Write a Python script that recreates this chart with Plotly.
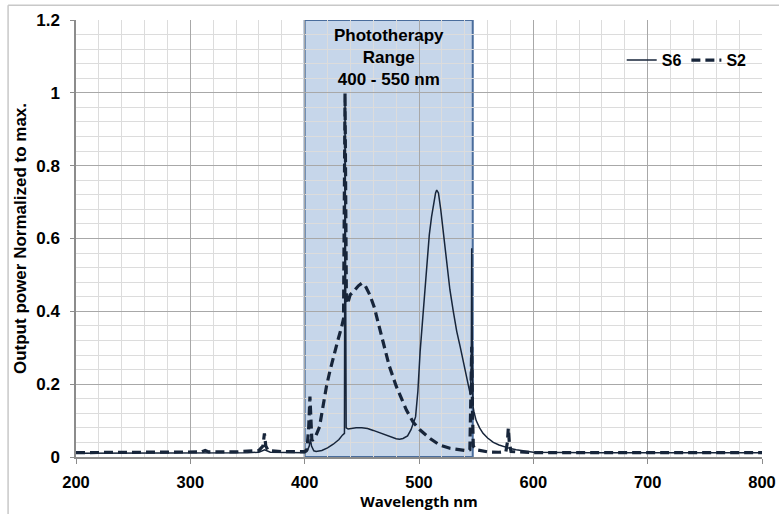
import plotly.graph_objects as go

# ---- data ----
s6_wl = [200, 250, 300, 350, 360, 365, 370, 400, 402, 404, 405, 406, 408, 410, 415, 420, 425, 430, 433,
         434.8, 435.3, 435.8, 436.3, 438, 440, 445, 450, 455, 460, 465, 470, 475, 480, 483, 486, 490, 493,
         497, 499, 501, 504, 507, 509, 511, 513, 514.5, 515.5, 517, 519, 521, 523, 525, 527, 530, 533,
         536, 539, 541, 543, 545, 545.7, 546.1, 546.6, 547.2, 548, 550, 553, 556, 560, 565, 570, 575,
         578, 585, 590, 595, 600, 650, 700, 750, 800]
s6_val = [0.010, 0.010, 0.011, 0.012, 0.013, 0.020, 0.013, 0.012, 0.015, 0.030, 0.050, 0.030, 0.017, 0.015,
          0.018, 0.025, 0.035, 0.048, 0.060, 0.065, 0.98, 0.30, 0.080, 0.077, 0.078, 0.080, 0.080, 0.078,
          0.073, 0.067, 0.060, 0.054, 0.050, 0.049, 0.051, 0.058, 0.075, 0.11, 0.18, 0.29, 0.42, 0.53,
          0.61, 0.66, 0.70, 0.725, 0.733, 0.725, 0.68, 0.62, 0.56, 0.51, 0.46, 0.40, 0.345, 0.303, 0.26,
          0.23, 0.195, 0.17, 0.25, 0.573, 0.30, 0.14, 0.125, 0.10, 0.08, 0.065, 0.052, 0.040, 0.033,
          0.027, 0.025, 0.020, 0.017, 0.015, 0.013, 0.012, 0.012, 0.012, 0.012]

s2_wl = [200, 220, 260, 300, 310, 313, 316, 340, 355, 360, 363.5, 364.8, 366, 368, 380, 395, 400, 402,
         403.5, 404.6, 405.5, 406.3, 408, 410, 413, 416, 419, 422, 425, 429, 432.4, 434, 435.3, 436.5,
         437.5, 439.7, 443, 447, 450, 453, 457, 461, 465, 469, 474, 480, 485, 489, 495, 501, 510, 518,
         527, 536, 542, 544.5, 545.5, 546.1, 546.8, 547.5, 550, 560, 570, 576, 577.3, 578.1, 579, 580.5,
         600, 650, 700, 760, 800]
s2_val = [0.012, 0.012, 0.012, 0.013, 0.014, 0.018, 0.014, 0.014, 0.016, 0.018, 0.030, 0.065, 0.030, 0.018,
          0.015, 0.015, 0.015, 0.020, 0.080, 0.166, 0.090, 0.045, 0.050, 0.060, 0.083, 0.14, 0.193, 0.235,
          0.275, 0.32, 0.358, 0.38, 1.0, 0.43, 0.42, 0.445, 0.455, 0.47, 0.477, 0.47, 0.445, 0.41, 0.36,
          0.31, 0.25, 0.195, 0.155, 0.129, 0.095, 0.074, 0.050, 0.033, 0.024, 0.019, 0.017, 0.020, 0.15,
          0.303, 0.12, 0.030, 0.020, 0.014, 0.013, 0.015, 0.040, 0.079, 0.040, 0.015, 0.012, 0.012, 0.012,
          0.012, 0.012]

range_lo, range_hi = 400, 547
range_label = "Phototherapy<br>Range<br>400 - 550 nm"
x_ticks = [200, 300, 400, 500, 600, 700, 800]
y_ticks = [0, 0.2, 0.4, 0.6, 0.8, 1, 1.2]

FONT = "Liberation Sans"
LINE = "#17253a"

fig = go.Figure()
fig.add_trace(go.Scatter(x=s6_wl, y=s6_val, mode="lines", name="S6",
                         line=dict(color=LINE, width=1.5)))
fig.add_trace(go.Scatter(x=s2_wl, y=s2_val, mode="lines", name="S2",
                         line=dict(color=LINE, width=3.2, dash="9px,5px")))

fig.add_shape(type="rect", xref="x", yref="y", x0=range_lo, x1=range_hi, y0=0, y1=1.2,
              fillcolor="#c6d6ea", line=dict(color="#4a6d9c", width=2), layer="below")

fig.add_annotation(x=(range_lo + range_hi) / 2, y=1.096, xref="x", yref="y", text=range_label,
                   showarrow=False, font=dict(family=FONT, size=17, color="black", weight="bold"))

# outer chart border (light grey, partially visible)
fig.add_shape(type="line", xref="paper", yref="paper", x0=-0.099, x1=1.05, y0=1.034, y1=1.034,
              line=dict(color="#c8c8c8", width=1.5))
fig.add_shape(type="line", xref="paper", yref="paper", x0=-0.099, x1=-0.099, y0=1.034, y1=-0.14,
              line=dict(color="#c8c8c8", width=1.5))

fig.update_layout(
    width=779, height=514,
    margin=dict(l=76, r=17, t=20, b=57),
    paper_bgcolor="white", plot_bgcolor="white",
    font=dict(family=FONT, size=16, color="black"),
    showlegend=True,
    legend=dict(orientation="h", x=0.985, xanchor="right", y=0.908, yanchor="middle",
                bgcolor="rgba(0,0,0,0)", font=dict(family=FONT, size=16, weight="bold"),
                itemwidth=30, tracegroupgap=0),
)
fig.update_xaxes(range=[200, 800], tickvals=x_ticks, showgrid=True, gridcolor="#a8a8a8", gridwidth=1,
                 minor=dict(dtick=20, showgrid=True, gridcolor="#dcdcdc", gridwidth=1),
                 showline=True, linecolor="#8c8c8c", linewidth=1.5,
                 ticks="outside", ticklen=5, tickcolor="#8c8c8c", ticklabelstandoff=4,
                 tickfont=dict(family=FONT, size=16.5, weight="bold"),
                 title=dict(text="Wavelength nm", font=dict(family="Open Sans", size=15, weight="bold"),
                            standoff=4),
                 zeroline=False, automargin=False)
fig.update_yaxes(range=[0, 1.2], tickvals=y_ticks, showgrid=True, gridcolor="#a8a8a8", gridwidth=1,
                 minor=dict(dtick=0.04, showgrid=True, gridcolor="#dcdcdc", gridwidth=1),
                 showline=True, linecolor="#8c8c8c", linewidth=1.5,
                 ticks="outside", ticklen=4, tickcolor="#8c8c8c", ticklabelstandoff=7,
                 tickfont=dict(family=FONT, size=17, weight="bold"),
                 title=dict(text="Output power Normalized to max.",
                            font=dict(family=FONT, size=17, weight="bold"), standoff=5),
                 zeroline=False, automargin=False)

fig.write_html("out.html", config={"displayModeBar": False},
               post_script="document.body.style.margin='0px';")
